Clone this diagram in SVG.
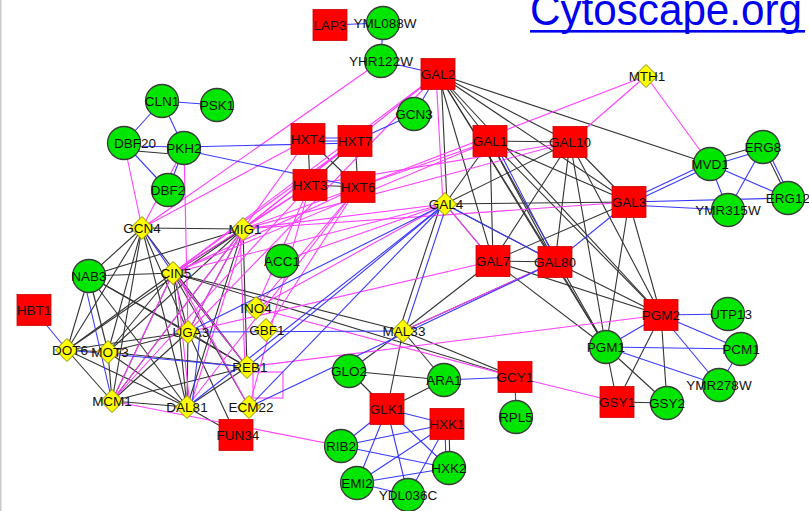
<svg xmlns="http://www.w3.org/2000/svg" xmlns:xlink="http://www.w3.org/1999/xlink" width="809" height="511" viewBox="0 0 809 511">
<defs>
<style>
.k{stroke:#333;stroke-width:1.1;fill:none}
.b{stroke:#3a3aff;stroke-width:1.1;fill:none}
.m{stroke:#ff40ff;stroke-width:1.1;fill:none}
.sq{fill:#ff0000;stroke:#d00000;stroke-width:0.8}
.ci{fill:#00e600;stroke:#3a3a3a;stroke-width:1.3}
.di{fill:#ffff00;stroke:#8c8c00;stroke-width:1}
.lb{font-family:"Liberation Sans",Arial,sans-serif;font-size:13.5px;fill:#111;text-anchor:middle}
</style>
<rect id="sq" x="-17" y="-15.5" width="34" height="31"/>
<circle id="ci" r="16.5"/>
<polygon id="di" points="0,-11.5 11.5,0 0,11.5 -11.5,0"/>
</defs>
<rect width="809" height="511" fill="#fff"/>
<rect x="0" y="0" width="1.5" height="511" fill="#c8c8c8"/>

<!-- title link -->
<g id="title">
<text x="530" y="25" font-family="Liberation Sans,Arial,sans-serif" font-size="44" fill="#0000ee" textLength="272" lengthAdjust="spacingAndGlyphs">Cytoscape.org</text>
<rect x="530" y="30" width="275" height="2.6" fill="#0000ee"/>
</g>

<g id="connectors">
<!-- black interactions -->
<g class="k">
<line x1="142" y1="228" x2="243" y2="229"/>
<line x1="142" y1="228" x2="89" y2="276"/>
<line x1="142" y1="228" x2="67" y2="350"/>
<line x1="142" y1="228" x2="108" y2="352"/>
<line x1="142" y1="228" x2="112" y2="401"/>
<line x1="142" y1="228" x2="187" y2="407"/>
<line x1="142" y1="228" x2="188" y2="332"/>
<line x1="142" y1="228" x2="247" y2="367"/>
<line x1="243" y1="229" x2="89" y2="276"/>
<line x1="243" y1="229" x2="173" y2="273"/>
<line x1="243" y1="229" x2="188" y2="332"/>
<line x1="243" y1="229" x2="247" y2="367"/>
<line x1="243" y1="229" x2="187" y2="407"/>
<line x1="243" y1="229" x2="112" y2="401"/>
<line x1="243" y1="229" x2="108" y2="352"/>
<line x1="243" y1="229" x2="67" y2="350"/>
<line x1="89" y1="276" x2="173" y2="273"/>
<line x1="89" y1="276" x2="67" y2="350"/>
<line x1="89" y1="276" x2="108" y2="352"/>
<line x1="89" y1="276" x2="188" y2="332"/>
<line x1="89" y1="276" x2="187" y2="407"/>
<line x1="89" y1="276" x2="247" y2="367"/>
<line x1="173" y1="273" x2="67" y2="350"/>
<line x1="173" y1="273" x2="108" y2="352"/>
<line x1="173" y1="273" x2="112" y2="401"/>
<line x1="173" y1="273" x2="187" y2="407"/>
<line x1="173" y1="273" x2="188" y2="332"/>
<line x1="173" y1="273" x2="247" y2="367"/>
<line x1="173" y1="273" x2="249" y2="407"/>
<line x1="173" y1="273" x2="403" y2="331"/>
<line x1="173" y1="273" x2="515" y2="377"/>
<line x1="67" y1="350" x2="108" y2="352"/>
<line x1="67" y1="350" x2="112" y2="401"/>
<line x1="67" y1="350" x2="188" y2="332"/>
<line x1="67" y1="350" x2="187" y2="407"/>
<line x1="108" y1="352" x2="188" y2="332"/>
<line x1="108" y1="352" x2="247" y2="367"/>
<line x1="108" y1="352" x2="112" y2="401"/>
<line x1="108" y1="352" x2="187" y2="407"/>
<line x1="112" y1="401" x2="187" y2="407"/>
<line x1="112" y1="401" x2="188" y2="332"/>
<line x1="112" y1="401" x2="247" y2="367"/>
<line x1="187" y1="407" x2="188" y2="332"/>
<line x1="187" y1="407" x2="247" y2="367"/>
<line x1="187" y1="407" x2="236" y2="435"/>
<line x1="188" y1="332" x2="247" y2="367"/>
<line x1="188" y1="332" x2="236" y2="435"/>
<line x1="124" y1="150" x2="184" y2="155"/>
<line x1="308" y1="139" x2="310" y2="185"/>
<line x1="355" y1="141" x2="358" y2="187"/>
<line x1="308" y1="139" x2="358" y2="187"/>
<line x1="355" y1="141" x2="310" y2="185"/>
<line x1="310" y1="185" x2="358" y2="187"/>
<line x1="438" y1="74" x2="490" y2="141"/>
<line x1="438" y1="74" x2="570" y2="142"/>
<line x1="438" y1="74" x2="629" y2="202"/>
<line x1="438" y1="74" x2="493" y2="261"/>
<line x1="438" y1="74" x2="555" y2="262"/>
<line x1="438" y1="74" x2="661" y2="315"/>
<line x1="438" y1="74" x2="606" y2="347"/>
<line x1="438" y1="74" x2="710" y2="164"/>
<line x1="441" y1="74" x2="447" y2="204"/>
<line x1="490" y1="141" x2="570" y2="142"/>
<line x1="490" y1="141" x2="493" y2="261"/>
<line x1="490" y1="141" x2="555" y2="262"/>
<line x1="490" y1="141" x2="606" y2="347"/>
<line x1="490" y1="141" x2="661" y2="315"/>
<line x1="490" y1="141" x2="629" y2="202"/>
<line x1="490" y1="141" x2="445" y2="204"/>
<line x1="570" y1="142" x2="493" y2="261"/>
<line x1="570" y1="142" x2="555" y2="262"/>
<line x1="570" y1="142" x2="606" y2="347"/>
<line x1="570" y1="142" x2="661" y2="315"/>
<line x1="570" y1="142" x2="629" y2="202"/>
<line x1="570" y1="142" x2="445" y2="204"/>
<line x1="629" y1="202" x2="493" y2="261"/>
<line x1="629" y1="202" x2="661" y2="315"/>
<line x1="629" y1="202" x2="606" y2="347"/>
<line x1="629" y1="202" x2="445" y2="204"/>
<line x1="493" y1="261" x2="555" y2="262"/>
<line x1="493" y1="261" x2="606" y2="347"/>
<line x1="493" y1="261" x2="661" y2="315"/>
<line x1="493" y1="261" x2="403" y2="331"/>
<line x1="493" y1="261" x2="445" y2="204"/>
<line x1="555" y1="262" x2="606" y2="347"/>
<line x1="555" y1="262" x2="661" y2="315"/>
<line x1="555" y1="262" x2="403" y2="331"/>
<line x1="555" y1="262" x2="445" y2="204"/>
<line x1="441" y1="204" x2="399" y2="331"/>
<line x1="661" y1="315" x2="617" y2="402"/>
<line x1="661" y1="315" x2="667" y2="403"/>
<line x1="606" y1="347" x2="617" y2="402"/>
<line x1="606" y1="347" x2="667" y2="403"/>
<line x1="617" y1="402" x2="667" y2="403"/>
<line x1="710" y1="160" x2="763" y2="145"/>
<line x1="763" y1="147" x2="788" y2="198"/>
<line x1="403" y1="331" x2="349" y2="371"/>
<line x1="403" y1="331" x2="444" y2="380"/>
<line x1="403" y1="331" x2="387" y2="409"/>
<line x1="403" y1="331" x2="515" y2="377"/>
<line x1="349" y1="371" x2="444" y2="380"/>
<line x1="349" y1="371" x2="387" y2="409"/>
<line x1="444" y1="380" x2="387" y2="409"/>
<line x1="449" y1="424" x2="450" y2="468"/>
</g>
<!-- magenta interactions -->
<g class="m">
<line x1="381" y1="61" x2="142" y2="228"/>
<line x1="438" y1="74" x2="243" y2="229"/>
<line x1="438" y1="74" x2="173" y2="273"/>
<line x1="438" y1="74" x2="188" y2="332"/>
<line x1="436" y1="74" x2="443" y2="204"/>
<line x1="646" y1="76" x2="358" y2="187"/>
<line x1="646" y1="76" x2="570" y2="142"/>
<line x1="646" y1="76" x2="710" y2="164"/>
<line x1="142" y1="228" x2="184" y2="148"/>
<line x1="142" y1="228" x2="124" y2="143"/>
<line x1="184" y1="148" x2="188" y2="332"/>
<line x1="142" y1="228" x2="308" y2="139"/>
<line x1="243" y1="229" x2="308" y2="139"/>
<line x1="243" y1="229" x2="355" y2="141"/>
<line x1="243" y1="229" x2="310" y2="185"/>
<line x1="243" y1="229" x2="358" y2="187"/>
<line x1="173" y1="273" x2="355" y2="141"/>
<line x1="173" y1="273" x2="310" y2="185"/>
<line x1="173" y1="273" x2="358" y2="187"/>
<line x1="243" y1="229" x2="445" y2="204"/>
<line x1="173" y1="273" x2="445" y2="204"/>
<line x1="243" y1="229" x2="570" y2="142"/>
<line x1="173" y1="273" x2="490" y2="141"/>
<line x1="243" y1="229" x2="112" y2="401"/>
<line x1="246" y1="229" x2="190" y2="407"/>
<line x1="173" y1="273" x2="112" y2="401"/>
<line x1="176" y1="273" x2="190" y2="407"/>
<line x1="176" y1="273" x2="249" y2="407"/>
<line x1="240" y1="229" x2="245" y2="367"/>
<line x1="176" y1="275" x2="247" y2="367"/>
<line x1="243" y1="229" x2="188" y2="332"/>
<line x1="445" y1="204" x2="493" y2="261"/>
<line x1="629" y1="202" x2="243" y2="229"/>
<line x1="247" y1="367" x2="661" y2="315"/>
<line x1="256" y1="308" x2="515" y2="377"/>
<line x1="515" y1="377" x2="617" y2="402"/>
<line x1="112" y1="401" x2="341" y2="446"/>
<line x1="310" y1="185" x2="112" y2="401"/>
<line x1="358" y1="187" x2="187" y2="407"/>
<line x1="188" y1="332" x2="493" y2="261"/>
<line x1="403" y1="331" x2="555" y2="262"/>
<line x1="256" y1="308" x2="358" y2="187"/>
<line x1="256" y1="308" x2="310" y2="185"/>
<line x1="266" y1="330" x2="358" y2="187"/>
<line x1="249" y1="407" x2="310" y2="185"/>
<line x1="256" y1="308" x2="445" y2="204"/>
<line x1="282" y1="261" x2="445" y2="204"/>
<line x1="310" y1="185" x2="570" y2="142"/>
<line x1="358" y1="187" x2="490" y2="141"/>
<rect x="253" y="372" width="30" height="26"/>
</g>
<!-- blue interactions -->
<g class="b">
<line x1="330" y1="25" x2="383" y2="23"/>
<line x1="383" y1="23" x2="381" y2="61"/>
<line x1="381" y1="61" x2="438" y2="74"/>
<line x1="438" y1="74" x2="414" y2="114"/>
<line x1="414" y1="114" x2="355" y2="141"/>
<line x1="308" y1="138" x2="355" y2="138"/>
<line x1="308" y1="141" x2="355" y2="141"/>
<line x1="184" y1="147" x2="355" y2="143"/>
<line x1="184" y1="150" x2="358" y2="187"/>
<line x1="162" y1="101" x2="217" y2="105"/>
<line x1="162" y1="101" x2="124" y2="143"/>
<line x1="162" y1="101" x2="184" y2="148"/>
<line x1="124" y1="146" x2="184" y2="147"/>
<line x1="124" y1="143" x2="168" y2="190"/>
<line x1="184" y1="148" x2="168" y2="190"/>
<line x1="34" y1="310" x2="67" y2="350"/>
<line x1="84" y1="280" x2="112" y2="401"/>
<line x1="142" y1="228" x2="173" y2="273"/>
<line x1="67" y1="350" x2="247" y2="367"/>
<line x1="188" y1="332" x2="403" y2="331"/>
<line x1="200" y1="335" x2="192" y2="405"/>
<line x1="445" y1="204" x2="188" y2="332"/>
<line x1="445" y1="204" x2="249" y2="407"/>
<line x1="445" y1="204" x2="247" y2="367"/>
<line x1="445" y1="204" x2="187" y2="407"/>
<line x1="447" y1="204" x2="405" y2="331"/>
<line x1="555" y1="262" x2="249" y2="407"/>
<line x1="445" y1="204" x2="555" y2="262"/>
<line x1="629" y1="202" x2="555" y2="262"/>
<line x1="494" y1="141" x2="557" y2="262"/>
<line x1="629" y1="200" x2="710" y2="162"/>
<line x1="629" y1="204" x2="710" y2="166"/>
<line x1="629" y1="202" x2="788" y2="198"/>
<line x1="629" y1="205" x2="728" y2="210"/>
<line x1="710" y1="166" x2="763" y2="150"/>
<line x1="710" y1="164" x2="788" y2="198"/>
<line x1="763" y1="147" x2="728" y2="210"/>
<line x1="766" y1="147" x2="791" y2="198"/>
<line x1="710" y1="164" x2="728" y2="210"/>
<line x1="661" y1="315" x2="728" y2="314"/>
<line x1="661" y1="315" x2="606" y2="347"/>
<line x1="661" y1="315" x2="741" y2="349"/>
<line x1="661" y1="315" x2="719" y2="385"/>
<line x1="606" y1="347" x2="741" y2="349"/>
<line x1="606" y1="347" x2="719" y2="385"/>
<line x1="741" y1="349" x2="719" y2="385"/>
<line x1="387" y1="409" x2="447" y2="424"/>
<line x1="387" y1="409" x2="341" y2="446"/>
<line x1="387" y1="409" x2="357" y2="483"/>
<line x1="387" y1="409" x2="408" y2="495"/>
<line x1="387" y1="409" x2="449" y2="468"/>
<line x1="447" y1="424" x2="341" y2="446"/>
<line x1="447" y1="424" x2="357" y2="483"/>
<line x1="447" y1="424" x2="408" y2="495"/>
<line x1="445" y1="424" x2="446" y2="468"/>
<line x1="341" y1="446" x2="449" y2="468"/>
<line x1="357" y1="483" x2="449" y2="468"/>
<line x1="357" y1="483" x2="408" y2="495"/>
<line x1="444" y1="380" x2="515" y2="377"/>
<line x1="515" y1="377" x2="516" y2="417"/>
</g>
</g>

<!-- square nodes -->
<g id="LAP3"><use href="#sq" x="330" y="25" class="sq"/><text class="lb" x="330" y="30">LAP3</text></g>
<g id="GAL2"><use href="#sq" x="438" y="74" class="sq"/><text class="lb" x="438" y="79">GAL2</text></g>
<g id="HXT4"><use href="#sq" x="308" y="139" class="sq"/><text class="lb" x="308" y="144">HXT4</text></g>
<g id="HXT7"><use href="#sq" x="355" y="141" class="sq"/><text class="lb" x="355" y="146">HXT7</text></g>
<g id="HXT3"><use href="#sq" x="310" y="185" class="sq"/><text class="lb" x="310" y="190">HXT3</text></g>
<g id="HXT6"><use href="#sq" x="358" y="187" class="sq"/><text class="lb" x="358" y="192">HXT6</text></g>
<g id="GAL1"><use href="#sq" x="490" y="141" class="sq"/><text class="lb" x="490" y="146">GAL1</text></g>
<g id="GAL10"><use href="#sq" x="570" y="142" class="sq"/><text class="lb" x="570" y="147">GAL10</text></g>
<g id="GAL3"><use href="#sq" x="629" y="202" class="sq"/><text class="lb" x="629" y="207">GAL3</text></g>
<g id="GAL7"><use href="#sq" x="493" y="261" class="sq"/><text class="lb" x="493" y="266">GAL7</text></g>
<g id="GAL80"><use href="#sq" x="555" y="262" class="sq"/><text class="lb" x="555" y="267">GAL80</text></g>
<g id="PGM2"><use href="#sq" x="661" y="315" class="sq"/><text class="lb" x="661" y="320">PGM2</text></g>
<g id="GSY1"><use href="#sq" x="617" y="402" class="sq"/><text class="lb" x="617" y="407">GSY1</text></g>
<g id="GCY1"><use href="#sq" x="515" y="377" class="sq"/><text class="lb" x="515" y="382">GCY1</text></g>
<g id="GLK1"><use href="#sq" x="387" y="409" class="sq"/><text class="lb" x="387" y="414">GLK1</text></g>
<g id="HXK1"><use href="#sq" x="447" y="424" class="sq"/><text class="lb" x="447" y="429">HXK1</text></g>
<g id="HBT1"><use href="#sq" x="34" y="310" class="sq"/><text class="lb" x="34" y="315">HBT1</text></g>
<g id="FUN34"><use href="#sq" x="236" y="435" class="sq"/><text class="lb" x="238" y="440">FUN34</text></g>

<!-- circle nodes -->
<g id="YML088W"><use href="#ci" x="383" y="23" class="ci"/><text class="lb" x="385" y="28">YML088W</text></g>
<g id="YHR122W"><use href="#ci" x="381" y="61" class="ci"/><text class="lb" x="381" y="66">YHR122W</text></g>
<g id="GCN3"><use href="#ci" x="414" y="114" class="ci"/><text class="lb" x="414" y="119">GCN3</text></g>
<g id="CLN1"><use href="#ci" x="162" y="101" class="ci"/><text class="lb" x="162" y="106">CLN1</text></g>
<g id="PSK1"><use href="#ci" x="217" y="105" class="ci"/><text class="lb" x="217" y="110">PSK1</text></g>
<g id="DBF20"><use href="#ci" x="124" y="143" class="ci"/><text class="lb" x="135" y="148">DBF20</text></g>
<g id="PKH2"><use href="#ci" x="184" y="148" class="ci"/><text class="lb" x="184" y="153">PKH2</text></g>
<g id="DBF2"><use href="#ci" x="168" y="190" class="ci"/><text class="lb" x="168" y="195">DBF2</text></g>
<g id="NAB3"><use href="#ci" x="89" y="276" class="ci"/><text class="lb" x="89" y="281">NAB3</text></g>
<g id="ACC1"><use href="#ci" x="282" y="261" class="ci"/><text class="lb" x="282" y="266">ACC1</text></g>
<g id="MVD1"><use href="#ci" x="710" y="164" class="ci"/><text class="lb" x="710" y="169">MVD1</text></g>
<g id="ERG8"><use href="#ci" x="763" y="147" class="ci"/><text class="lb" x="763" y="152">ERG8</text></g>
<g id="ERG12"><use href="#ci" x="788" y="198" class="ci"/><text class="lb" x="788" y="203">ERG12</text></g>
<g id="YMR315W"><use href="#ci" x="728" y="210" class="ci"/><text class="lb" x="728" y="215">YMR315W</text></g>
<g id="UTP13"><use href="#ci" x="728" y="314" class="ci"/><text class="lb" x="731" y="319">UTP13</text></g>
<g id="PGM1"><use href="#ci" x="606" y="347" class="ci"/><text class="lb" x="606" y="352">PGM1</text></g>
<g id="PCM1"><use href="#ci" x="741" y="349" class="ci"/><text class="lb" x="741" y="354">PCM1</text></g>
<g id="YMR278W"><use href="#ci" x="719" y="385" class="ci"/><text class="lb" x="719" y="390">YMR278W</text></g>
<g id="GSY2"><use href="#ci" x="667" y="403" class="ci"/><text class="lb" x="667" y="408">GSY2</text></g>
<g id="RPL5"><use href="#ci" x="516" y="417" class="ci"/><text class="lb" x="516" y="422">RPL5</text></g>
<g id="ARA1"><use href="#ci" x="444" y="380" class="ci"/><text class="lb" x="444" y="385">ARA1</text></g>
<g id="GLO2"><use href="#ci" x="349" y="371" class="ci"/><text class="lb" x="349" y="376">GLO2</text></g>
<g id="RIB2"><use href="#ci" x="341" y="446" class="ci"/><text class="lb" x="341" y="451">RIB2</text></g>
<g id="HXK2"><use href="#ci" x="449" y="468" class="ci"/><text class="lb" x="449" y="473">HXK2</text></g>
<g id="EMI2"><use href="#ci" x="357" y="483" class="ci"/><text class="lb" x="357" y="488">EMI2</text></g>
<g id="YDL036C"><use href="#ci" x="408" y="495" class="ci"/><text class="lb" x="408" y="500">YDL036C</text></g>

<!-- diamond nodes -->
<g id="MTH1"><use href="#di" x="646" y="76" class="di"/><text class="lb" x="647" y="81">MTH1</text></g>
<g id="GAL4"><use href="#di" x="445" y="204" class="di"/><text class="lb" x="446" y="209">GAL4</text></g>
<g id="MAL33"><use href="#di" x="403" y="331" class="di"/><text class="lb" x="404" y="336">MAL33</text></g>
<g id="GCN4"><use href="#di" x="142" y="228" class="di"/><text class="lb" x="142" y="233">GCN4</text></g>
<g id="MIG1"><use href="#di" x="243" y="229" class="di"/><text class="lb" x="245" y="234">MIG1</text></g>
<g id="CIN5"><use href="#di" x="173" y="273" class="di"/><text class="lb" x="176" y="278">CIN5</text></g>
<g id="INO4"><use href="#di" x="256" y="308" class="di"/><text class="lb" x="256" y="313">INO4</text></g>
<g id="GBF1"><use href="#di" x="266" y="330" class="di"/><text class="lb" x="267" y="335">GBF1</text></g>
<g id="UGA3"><use href="#di" x="188" y="332" class="di"/><text class="lb" x="191" y="337">UGA3</text></g>
<g id="REB1"><use href="#di" x="247" y="367" class="di"/><text class="lb" x="250" y="372">REB1</text></g>
<g id="DOT6"><use href="#di" x="67" y="350" class="di"/><text class="lb" x="70" y="355">DOT6</text></g>
<g id="MOT3"><use href="#di" x="108" y="352" class="di"/><text class="lb" x="110" y="357">MOT3</text></g>
<g id="MCM1"><use href="#di" x="112" y="401" class="di"/><text class="lb" x="112" y="406">MCM1</text></g>
<g id="DAL81"><use href="#di" x="187" y="407" class="di"/><text class="lb" x="187" y="412">DAL81</text></g>
<g id="ECM22"><use href="#di" x="249" y="407" class="di"/><text class="lb" x="251" y="412">ECM22</text></g>
</svg>
